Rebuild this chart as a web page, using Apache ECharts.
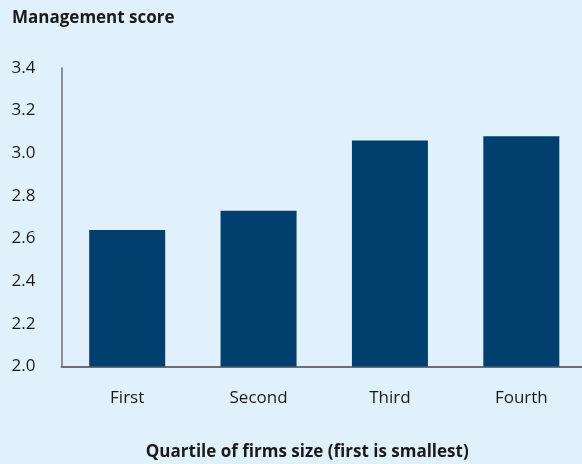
<!DOCTYPE html>
<html>
<head>
<meta charset="utf-8">
<script src="https://cdn.jsdelivr.net/npm/echarts@6/dist/echarts.min.js"></script>
<style>
  html, body { margin: 0; padding: 0; background: #e0f1fc; }
  #chart { width: 582px; height: 464px; }
</style>
</head>
<body>
<div id="chart"></div>
<script>
const categories = ['First', 'Second', 'Third', 'Fourth']
const scores = [2.64, 2.73, 3.06, 3.08]
const yMin = 2.0
const yMax = 3.4
const yStep = 0.2

const chart = echarts.init(document.getElementById('chart'))
const font = '"Open Sans", sans-serif'

chart.setOption({
  backgroundColor: '#e0f1fc',
  animation: false,
  title: {
    text: 'Management score',
    left: 7,
    top: 5,
    textStyle: { fontFamily: font, fontSize: 17, fontWeight: 'bold', color: '#1a1a1a' }
  },
  grid: { left: 61.5, right: -5, top: 68, bottom: 97.5, outerBoundsMode: 'none', containLabel: false },
  xAxis: {
    type: 'category',
    data: categories,
    name: 'Quartile of firms size (first is smallest)',
    nameLocation: 'middle',
    nameGap: 77,
    nameTextStyle: { fontFamily: font, fontSize: 17, fontWeight: 'bold', color: '#1a1a1a', padding: [0, 34, 0, 0] },
    axisLine: { lineStyle: { color: '#6b6f73', width: 2 } },
    axisTick: { show: false },
    axisLabel: { fontFamily: font, fontSize: 17, color: '#1a1a1a', margin: 23 }
  },
  yAxis: {
    type: 'value',
    min: yMin,
    max: yMax,
    interval: yStep,
    axisLine: { show: true, lineStyle: { color: '#6b6f73', width: 1.5 } },
    axisTick: { show: false },
    splitLine: { show: false },
    axisLabel: {
      fontFamily: font, fontSize: 17, color: '#1a1a1a',
      align: 'left', margin: 50,
      formatter: (v) => v.toFixed(1)
    }
  },
  series: [{
    type: 'bar',
    data: scores,
    barWidth: 76,
    itemStyle: { color: '#003f6e' }
  }]
})
</script>
</body>
</html>
